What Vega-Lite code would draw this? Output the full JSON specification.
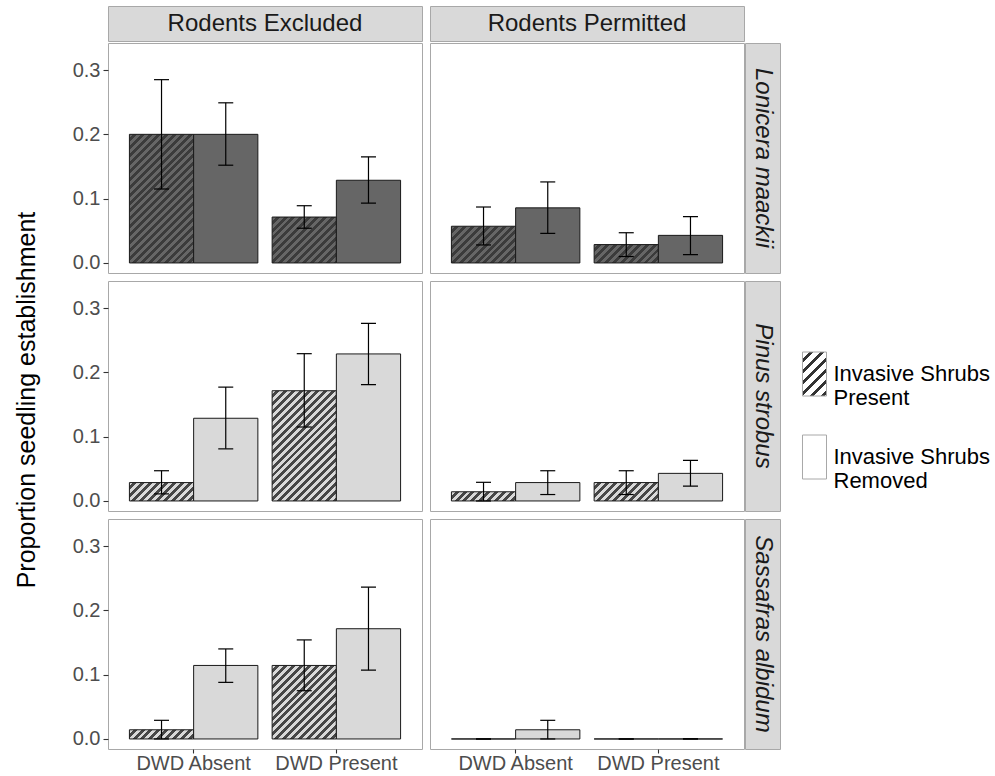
{
  "$schema": "https://vega.github.io/schema/vega-lite/v6.json",
  "autosize": {"type": "pad"},
  "padding": {"left": 2, "top": 5, "right": 0, "bottom": 0},
  "background": "white",
  "config": {
    "view": {"stroke": null},
    "font": "Liberation Sans",
    "axis": {"labelFont": "Liberation Sans", "labelFontSize": 20, "labelColor": "#4d4d4d", "tickColor": "#333333", "tickWidth": 1.1, "domain": false, "grid": false},
    "axisX": {"tickSize": 4, "labelPadding": 0},
    "axisY": {"tickSize": 5, "labelPadding": 3},
    "text": {"font": "Liberation Sans"}
  },
  "params": [
    {"name": "stopsDark", "value": [
      {"offset":0,"color":"#666666"},{"offset":0.02,"color":"#666666"},{"offset":0.02,"color":"#3b3b3b"},{"offset":0.04,"color":"#3b3b3b"},
      {"offset":0.04,"color":"#666666"},{"offset":0.06,"color":"#666666"},{"offset":0.06,"color":"#3b3b3b"},{"offset":0.08,"color":"#3b3b3b"},
      {"offset":0.08,"color":"#666666"},{"offset":0.10,"color":"#666666"},{"offset":0.10,"color":"#3b3b3b"},{"offset":0.12,"color":"#3b3b3b"},
      {"offset":0.12,"color":"#666666"},{"offset":0.14,"color":"#666666"},{"offset":0.14,"color":"#3b3b3b"},{"offset":0.16,"color":"#3b3b3b"},
      {"offset":0.16,"color":"#666666"},{"offset":0.18,"color":"#666666"},{"offset":0.18,"color":"#3b3b3b"},{"offset":0.20,"color":"#3b3b3b"},
      {"offset":0.20,"color":"#666666"},{"offset":0.22,"color":"#666666"},{"offset":0.22,"color":"#3b3b3b"},{"offset":0.24,"color":"#3b3b3b"},
      {"offset":0.24,"color":"#666666"},{"offset":0.26,"color":"#666666"},{"offset":0.26,"color":"#3b3b3b"},{"offset":0.28,"color":"#3b3b3b"},
      {"offset":0.28,"color":"#666666"},{"offset":0.30,"color":"#666666"},{"offset":0.30,"color":"#3b3b3b"},{"offset":0.32,"color":"#3b3b3b"},
      {"offset":0.32,"color":"#666666"},{"offset":0.34,"color":"#666666"},{"offset":0.34,"color":"#3b3b3b"},{"offset":0.36,"color":"#3b3b3b"},
      {"offset":0.36,"color":"#666666"},{"offset":0.38,"color":"#666666"},{"offset":0.38,"color":"#3b3b3b"},{"offset":0.40,"color":"#3b3b3b"},
      {"offset":0.40,"color":"#666666"},{"offset":0.42,"color":"#666666"},{"offset":0.42,"color":"#3b3b3b"},{"offset":0.44,"color":"#3b3b3b"},
      {"offset":0.44,"color":"#666666"},{"offset":0.46,"color":"#666666"},{"offset":0.46,"color":"#3b3b3b"},{"offset":0.48,"color":"#3b3b3b"},
      {"offset":0.48,"color":"#666666"},{"offset":0.50,"color":"#666666"},{"offset":0.50,"color":"#3b3b3b"},{"offset":0.52,"color":"#3b3b3b"},
      {"offset":0.52,"color":"#666666"},{"offset":0.54,"color":"#666666"},{"offset":0.54,"color":"#3b3b3b"},{"offset":0.56,"color":"#3b3b3b"},
      {"offset":0.56,"color":"#666666"},{"offset":0.58,"color":"#666666"},{"offset":0.58,"color":"#3b3b3b"},{"offset":0.60,"color":"#3b3b3b"},
      {"offset":0.60,"color":"#666666"},{"offset":0.62,"color":"#666666"},{"offset":0.62,"color":"#3b3b3b"},{"offset":0.64,"color":"#3b3b3b"},
      {"offset":0.64,"color":"#666666"},{"offset":0.66,"color":"#666666"},{"offset":0.66,"color":"#3b3b3b"},{"offset":0.68,"color":"#3b3b3b"},
      {"offset":0.68,"color":"#666666"},{"offset":0.70,"color":"#666666"},{"offset":0.70,"color":"#3b3b3b"},{"offset":0.72,"color":"#3b3b3b"},
      {"offset":0.72,"color":"#666666"},{"offset":0.74,"color":"#666666"},{"offset":0.74,"color":"#3b3b3b"},{"offset":0.76,"color":"#3b3b3b"},
      {"offset":0.76,"color":"#666666"},{"offset":0.78,"color":"#666666"},{"offset":0.78,"color":"#3b3b3b"},{"offset":0.80,"color":"#3b3b3b"},
      {"offset":0.80,"color":"#666666"},{"offset":0.82,"color":"#666666"},{"offset":0.82,"color":"#3b3b3b"},{"offset":0.84,"color":"#3b3b3b"},
      {"offset":0.84,"color":"#666666"},{"offset":0.86,"color":"#666666"},{"offset":0.86,"color":"#3b3b3b"},{"offset":0.88,"color":"#3b3b3b"},
      {"offset":0.88,"color":"#666666"},{"offset":0.90,"color":"#666666"},{"offset":0.90,"color":"#3b3b3b"},{"offset":0.92,"color":"#3b3b3b"},
      {"offset":0.92,"color":"#666666"},{"offset":0.94,"color":"#666666"},{"offset":0.94,"color":"#3b3b3b"},{"offset":0.96,"color":"#3b3b3b"},
      {"offset":0.96,"color":"#666666"},{"offset":0.98,"color":"#666666"},{"offset":0.98,"color":"#3b3b3b"},{"offset":1,"color":"#3b3b3b"}
    ]},
    {"name": "stopsLight", "value": [
      {"offset":0,"color":"#d9d9d9"},{"offset":0.02,"color":"#d9d9d9"},{"offset":0.02,"color":"#474747"},{"offset":0.04,"color":"#474747"},
      {"offset":0.04,"color":"#d9d9d9"},{"offset":0.06,"color":"#d9d9d9"},{"offset":0.06,"color":"#474747"},{"offset":0.08,"color":"#474747"},
      {"offset":0.08,"color":"#d9d9d9"},{"offset":0.10,"color":"#d9d9d9"},{"offset":0.10,"color":"#474747"},{"offset":0.12,"color":"#474747"},
      {"offset":0.12,"color":"#d9d9d9"},{"offset":0.14,"color":"#d9d9d9"},{"offset":0.14,"color":"#474747"},{"offset":0.16,"color":"#474747"},
      {"offset":0.16,"color":"#d9d9d9"},{"offset":0.18,"color":"#d9d9d9"},{"offset":0.18,"color":"#474747"},{"offset":0.20,"color":"#474747"},
      {"offset":0.20,"color":"#d9d9d9"},{"offset":0.22,"color":"#d9d9d9"},{"offset":0.22,"color":"#474747"},{"offset":0.24,"color":"#474747"},
      {"offset":0.24,"color":"#d9d9d9"},{"offset":0.26,"color":"#d9d9d9"},{"offset":0.26,"color":"#474747"},{"offset":0.28,"color":"#474747"},
      {"offset":0.28,"color":"#d9d9d9"},{"offset":0.30,"color":"#d9d9d9"},{"offset":0.30,"color":"#474747"},{"offset":0.32,"color":"#474747"},
      {"offset":0.32,"color":"#d9d9d9"},{"offset":0.34,"color":"#d9d9d9"},{"offset":0.34,"color":"#474747"},{"offset":0.36,"color":"#474747"},
      {"offset":0.36,"color":"#d9d9d9"},{"offset":0.38,"color":"#d9d9d9"},{"offset":0.38,"color":"#474747"},{"offset":0.40,"color":"#474747"},
      {"offset":0.40,"color":"#d9d9d9"},{"offset":0.42,"color":"#d9d9d9"},{"offset":0.42,"color":"#474747"},{"offset":0.44,"color":"#474747"},
      {"offset":0.44,"color":"#d9d9d9"},{"offset":0.46,"color":"#d9d9d9"},{"offset":0.46,"color":"#474747"},{"offset":0.48,"color":"#474747"},
      {"offset":0.48,"color":"#d9d9d9"},{"offset":0.50,"color":"#d9d9d9"},{"offset":0.50,"color":"#474747"},{"offset":0.52,"color":"#474747"},
      {"offset":0.52,"color":"#d9d9d9"},{"offset":0.54,"color":"#d9d9d9"},{"offset":0.54,"color":"#474747"},{"offset":0.56,"color":"#474747"},
      {"offset":0.56,"color":"#d9d9d9"},{"offset":0.58,"color":"#d9d9d9"},{"offset":0.58,"color":"#474747"},{"offset":0.60,"color":"#474747"},
      {"offset":0.60,"color":"#d9d9d9"},{"offset":0.62,"color":"#d9d9d9"},{"offset":0.62,"color":"#474747"},{"offset":0.64,"color":"#474747"},
      {"offset":0.64,"color":"#d9d9d9"},{"offset":0.66,"color":"#d9d9d9"},{"offset":0.66,"color":"#474747"},{"offset":0.68,"color":"#474747"},
      {"offset":0.68,"color":"#d9d9d9"},{"offset":0.70,"color":"#d9d9d9"},{"offset":0.70,"color":"#474747"},{"offset":0.72,"color":"#474747"},
      {"offset":0.72,"color":"#d9d9d9"},{"offset":0.74,"color":"#d9d9d9"},{"offset":0.74,"color":"#474747"},{"offset":0.76,"color":"#474747"},
      {"offset":0.76,"color":"#d9d9d9"},{"offset":0.78,"color":"#d9d9d9"},{"offset":0.78,"color":"#474747"},{"offset":0.80,"color":"#474747"},
      {"offset":0.80,"color":"#d9d9d9"},{"offset":0.82,"color":"#d9d9d9"},{"offset":0.82,"color":"#474747"},{"offset":0.84,"color":"#474747"},
      {"offset":0.84,"color":"#d9d9d9"},{"offset":0.86,"color":"#d9d9d9"},{"offset":0.86,"color":"#474747"},{"offset":0.88,"color":"#474747"},
      {"offset":0.88,"color":"#d9d9d9"},{"offset":0.90,"color":"#d9d9d9"},{"offset":0.90,"color":"#474747"},{"offset":0.92,"color":"#474747"},
      {"offset":0.92,"color":"#d9d9d9"},{"offset":0.94,"color":"#d9d9d9"},{"offset":0.94,"color":"#474747"},{"offset":0.96,"color":"#474747"},
      {"offset":0.96,"color":"#d9d9d9"},{"offset":0.98,"color":"#d9d9d9"},{"offset":0.98,"color":"#474747"},{"offset":1,"color":"#474747"}
    ]},
    {"name": "stopsLegend", "value": [
      {"offset":0,"color":"#ffffff"},{"offset":0.025,"color":"#ffffff"},{"offset":0.025,"color":"#333333"},{"offset":0.04,"color":"#333333"},
      {"offset":0.04,"color":"#ffffff"},{"offset":0.065,"color":"#ffffff"},{"offset":0.065,"color":"#333333"},{"offset":0.08,"color":"#333333"},
      {"offset":0.08,"color":"#ffffff"},{"offset":0.105,"color":"#ffffff"},{"offset":0.105,"color":"#333333"},{"offset":0.12,"color":"#333333"},
      {"offset":0.12,"color":"#ffffff"},{"offset":0.145,"color":"#ffffff"},{"offset":0.145,"color":"#333333"},{"offset":0.16,"color":"#333333"},
      {"offset":0.16,"color":"#ffffff"},{"offset":0.185,"color":"#ffffff"},{"offset":0.185,"color":"#333333"},{"offset":0.20,"color":"#333333"},
      {"offset":0.20,"color":"#ffffff"},{"offset":0.225,"color":"#ffffff"},{"offset":0.225,"color":"#333333"},{"offset":0.24,"color":"#333333"},
      {"offset":0.24,"color":"#ffffff"},{"offset":0.265,"color":"#ffffff"},{"offset":0.265,"color":"#333333"},{"offset":0.28,"color":"#333333"},
      {"offset":0.28,"color":"#ffffff"},{"offset":0.305,"color":"#ffffff"},{"offset":0.305,"color":"#333333"},{"offset":0.32,"color":"#333333"},
      {"offset":0.32,"color":"#ffffff"},{"offset":1,"color":"#ffffff"}
    ]}
  ],
  "datasets": {
    "bars": [
      {"species":"Lonicera maackii","rodent":"Rodents Excluded","dwd":"DWD Absent","trt":"Present","mean":0.2,"lo":0.115,"hi":0.285},
      {"species":"Lonicera maackii","rodent":"Rodents Excluded","dwd":"DWD Absent","trt":"Removed","mean":0.2,"lo":0.152,"hi":0.249},
      {"species":"Lonicera maackii","rodent":"Rodents Excluded","dwd":"DWD Present","trt":"Present","mean":0.0714,"lo":0.054,"hi":0.089},
      {"species":"Lonicera maackii","rodent":"Rodents Excluded","dwd":"DWD Present","trt":"Removed","mean":0.1286,"lo":0.093,"hi":0.165},
      {"species":"Lonicera maackii","rodent":"Rodents Permitted","dwd":"DWD Absent","trt":"Present","mean":0.0571,"lo":0.028,"hi":0.087},
      {"species":"Lonicera maackii","rodent":"Rodents Permitted","dwd":"DWD Absent","trt":"Removed","mean":0.0857,"lo":0.046,"hi":0.126},
      {"species":"Lonicera maackii","rodent":"Rodents Permitted","dwd":"DWD Present","trt":"Present","mean":0.0286,"lo":0.010,"hi":0.047},
      {"species":"Lonicera maackii","rodent":"Rodents Permitted","dwd":"DWD Present","trt":"Removed","mean":0.0429,"lo":0.013,"hi":0.072},
      {"species":"Pinus strobus","rodent":"Rodents Excluded","dwd":"DWD Absent","trt":"Present","mean":0.0286,"lo":0.011,"hi":0.047},
      {"species":"Pinus strobus","rodent":"Rodents Excluded","dwd":"DWD Absent","trt":"Removed","mean":0.1286,"lo":0.081,"hi":0.177},
      {"species":"Pinus strobus","rodent":"Rodents Excluded","dwd":"DWD Present","trt":"Present","mean":0.1714,"lo":0.115,"hi":0.229},
      {"species":"Pinus strobus","rodent":"Rodents Excluded","dwd":"DWD Present","trt":"Removed","mean":0.2286,"lo":0.181,"hi":0.276},
      {"species":"Pinus strobus","rodent":"Rodents Permitted","dwd":"DWD Absent","trt":"Present","mean":0.0143,"lo":0.0,"hi":0.029},
      {"species":"Pinus strobus","rodent":"Rodents Permitted","dwd":"DWD Absent","trt":"Removed","mean":0.0286,"lo":0.010,"hi":0.047},
      {"species":"Pinus strobus","rodent":"Rodents Permitted","dwd":"DWD Present","trt":"Present","mean":0.0286,"lo":0.010,"hi":0.047},
      {"species":"Pinus strobus","rodent":"Rodents Permitted","dwd":"DWD Present","trt":"Removed","mean":0.0429,"lo":0.023,"hi":0.063},
      {"species":"Sassafras albidum","rodent":"Rodents Excluded","dwd":"DWD Absent","trt":"Present","mean":0.0143,"lo":0.0,"hi":0.029},
      {"species":"Sassafras albidum","rodent":"Rodents Excluded","dwd":"DWD Absent","trt":"Removed","mean":0.1143,"lo":0.088,"hi":0.140},
      {"species":"Sassafras albidum","rodent":"Rodents Excluded","dwd":"DWD Present","trt":"Present","mean":0.1143,"lo":0.075,"hi":0.154},
      {"species":"Sassafras albidum","rodent":"Rodents Excluded","dwd":"DWD Present","trt":"Removed","mean":0.1714,"lo":0.107,"hi":0.236},
      {"species":"Sassafras albidum","rodent":"Rodents Permitted","dwd":"DWD Absent","trt":"Present","mean":0,"lo":0,"hi":0},
      {"species":"Sassafras albidum","rodent":"Rodents Permitted","dwd":"DWD Absent","trt":"Removed","mean":0.0143,"lo":0.0,"hi":0.029},
      {"species":"Sassafras albidum","rodent":"Rodents Permitted","dwd":"DWD Present","trt":"Present","mean":0,"lo":0,"hi":0},
      {"species":"Sassafras albidum","rodent":"Rodents Permitted","dwd":"DWD Present","trt":"Removed","mean":0,"lo":0,"hi":0}
    ]
  },
  "spacing": 19,
  "hconcat": [
    {
      "spacing": 0,
      "vconcat": [
        {"width": 50, "height": 41, "data": {"values": []}, "mark": "text"},
        {"width": 50, "height": 706, "data": {"values": [{"t": "Proportion seedling establishment"}]},
         "mark": {"type": "text", "angle": 270, "fontSize": 25, "color": "black", "font": "Liberation Sans", "align": "center", "baseline": "middle"},
         "encoding": {"text": {"field": "t"}}}
      ]
    },
    {
      "spacing": 0,
      "vconcat": [
        {
          "spacing": 6,
          "hconcat": [
            {"width": 314, "height": 35, "view": {"fill": "#d9d9d9", "stroke": "#a8a8a8", "strokeWidth": 1},
             "data": {"values": [{"s": "Rodents Excluded"}]},
             "mark": {"type": "text", "fontSize": 24, "color": "#1a1a1a", "font": "Liberation Sans", "align": "center", "baseline": "middle"},
             "encoding": {"text": {"field": "s"}}},
            {"width": 314, "height": 35, "view": {"fill": "#d9d9d9", "stroke": "#a8a8a8", "strokeWidth": 1},
             "data": {"values": [{"s": "Rodents Permitted"}]},
             "mark": {"type": "text", "fontSize": 24, "color": "#1a1a1a", "font": "Liberation Sans", "align": "center", "baseline": "middle"},
             "encoding": {"text": {"field": "s"}}}
          ]
        },
        {
          "spacing": 6,
          "vconcat": [
            {
              "spacing": -2,
              "hconcat": [
                {
                  "spacing": 6,
                  "hconcat": [
                    {
                      "width": 314, "height": 230,
                      "view": {"fill": "white", "stroke": "#a8a8a8", "strokeWidth": 1},
                      "data": {"name": "bars"},
                      "transform": [{"filter": "datum.species === 'Lonicera maackii' && datum.rodent === 'Rodents Excluded'"}],
                      "encoding": {
                        "x": {"field": "dwd", "type": "nominal", "title": null, "scale": {"domain": ["DWD Absent", "DWD Present"], "paddingInner": 0.1, "paddingOuter": 0.15}, "axis": null},
                        "xOffset": {"field": "trt", "type": "nominal", "scale": {"domain": ["Present", "Removed"], "paddingInner": 0, "paddingOuter": 0}}
                      },
                      "layer": [
                        {"mark": {"type": "bar", "stroke": "#1a1a1a", "strokeWidth": 1, "opacity": 1, "fill": {"expr": "datum.trt === 'Present' ? {gradient: 'linear', x1: 0, y1: 0, x2: 198 * 64.23 / (4125.5 + pow(max(datum.mean * 643.2, 1), 2)), y2: 198 * max(datum.mean * 643.2, 1) / (4125.5 + pow(max(datum.mean * 643.2, 1), 2)), stops: (datum.species === 'Lonicera maackii' ? stopsDark : stopsLight)} : (datum.species === 'Lonicera maackii' ? '#666666' : '#d9d9d9')"}},
                         "encoding": {"y": {"field": "mean", "type": "quantitative", "title": null, "scale": {"domain": [-0.0156, 0.342], "nice": false, "zero": false}, "axis": {"values": [0, 0.1, 0.2, 0.3], "format": ".1f"}}, "y2": {"datum": 0}}},
                        {"mark": {"type": "rule", "color": "black", "strokeWidth": 1.2, "opacity": 1},
                         "encoding": {"y": {"field": "lo", "type": "quantitative", "title": null, "scale": {"domain": [-0.0156, 0.342], "nice": false, "zero": false}, "axis": {"values": [0, 0.1, 0.2, 0.3], "format": ".1f"}}, "y2": {"field": "hi"}}},
                        {"mark": {"type": "tick", "color": "black", "thickness": 1.2, "size": 15, "opacity": 1},
                         "encoding": {"y": {"field": "lo", "type": "quantitative", "title": null, "scale": {"domain": [-0.0156, 0.342], "nice": false, "zero": false}, "axis": {"values": [0, 0.1, 0.2, 0.3], "format": ".1f"}}}},
                        {"mark": {"type": "tick", "color": "black", "thickness": 1.2, "size": 15, "opacity": 1},
                         "encoding": {"y": {"field": "hi", "type": "quantitative", "title": null, "scale": {"domain": [-0.0156, 0.342], "nice": false, "zero": false}, "axis": {"values": [0, 0.1, 0.2, 0.3], "format": ".1f"}}}}
                      ]
                    },
                    {
                      "width": 314, "height": 230,
                      "view": {"fill": "white", "stroke": "#a8a8a8", "strokeWidth": 1},
                      "data": {"name": "bars"},
                      "transform": [{"filter": "datum.species === 'Lonicera maackii' && datum.rodent === 'Rodents Permitted'"}],
                      "encoding": {
                        "x": {"field": "dwd", "type": "nominal", "title": null, "scale": {"domain": ["DWD Absent", "DWD Present"], "paddingInner": 0.1, "paddingOuter": 0.15}, "axis": null},
                        "xOffset": {"field": "trt", "type": "nominal", "scale": {"domain": ["Present", "Removed"], "paddingInner": 0, "paddingOuter": 0}}
                      },
                      "layer": [
                        {"mark": {"type": "bar", "stroke": "#1a1a1a", "strokeWidth": 1, "opacity": 1, "fill": {"expr": "datum.trt === 'Present' ? {gradient: 'linear', x1: 0, y1: 0, x2: 198 * 64.23 / (4125.5 + pow(max(datum.mean * 643.2, 1), 2)), y2: 198 * max(datum.mean * 643.2, 1) / (4125.5 + pow(max(datum.mean * 643.2, 1), 2)), stops: (datum.species === 'Lonicera maackii' ? stopsDark : stopsLight)} : (datum.species === 'Lonicera maackii' ? '#666666' : '#d9d9d9')"}},
                         "encoding": {"y": {"field": "mean", "type": "quantitative", "title": null, "scale": {"domain": [-0.0156, 0.342], "nice": false, "zero": false}, "axis": null}, "y2": {"datum": 0}}},
                        {"mark": {"type": "rule", "color": "black", "strokeWidth": 1.2, "opacity": 1},
                         "encoding": {"y": {"field": "lo", "type": "quantitative", "title": null, "scale": {"domain": [-0.0156, 0.342], "nice": false, "zero": false}, "axis": null}, "y2": {"field": "hi"}}},
                        {"mark": {"type": "tick", "color": "black", "thickness": 1.2, "size": 15, "opacity": 1},
                         "encoding": {"y": {"field": "lo", "type": "quantitative", "title": null, "scale": {"domain": [-0.0156, 0.342], "nice": false, "zero": false}, "axis": null}}},
                        {"mark": {"type": "tick", "color": "black", "thickness": 1.2, "size": 15, "opacity": 1},
                         "encoding": {"y": {"field": "hi", "type": "quantitative", "title": null, "scale": {"domain": [-0.0156, 0.342], "nice": false, "zero": false}, "axis": null}}}
                      ]
                    }
                  ]
                },
                {"width": 35, "height": 230, "view": {"fill": "#d9d9d9", "stroke": "#a8a8a8", "strokeWidth": 1},
                 "data": {"values": [{"s": "Lonicera maackii"}]},
                 "mark": {"type": "text", "angle": 90, "fontSize": 24, "fontStyle": "italic", "color": "#1a1a1a", "font": "Liberation Sans", "align": "center", "baseline": "middle"},
                 "encoding": {"text": {"field": "s"}}}
              ]
            },
            {
              "spacing": -2,
              "hconcat": [
                {
                  "spacing": 6,
                  "hconcat": [
                    {
                      "width": 314, "height": 230,
                      "view": {"fill": "white", "stroke": "#a8a8a8", "strokeWidth": 1},
                      "data": {"name": "bars"},
                      "transform": [{"filter": "datum.species === 'Pinus strobus' && datum.rodent === 'Rodents Excluded'"}],
                      "encoding": {
                        "x": {"field": "dwd", "type": "nominal", "title": null, "scale": {"domain": ["DWD Absent", "DWD Present"], "paddingInner": 0.1, "paddingOuter": 0.15}, "axis": null},
                        "xOffset": {"field": "trt", "type": "nominal", "scale": {"domain": ["Present", "Removed"], "paddingInner": 0, "paddingOuter": 0}}
                      },
                      "layer": [
                        {"mark": {"type": "bar", "stroke": "#1a1a1a", "strokeWidth": 1, "opacity": 1, "fill": {"expr": "datum.trt === 'Present' ? {gradient: 'linear', x1: 0, y1: 0, x2: 198 * 64.23 / (4125.5 + pow(max(datum.mean * 643.2, 1), 2)), y2: 198 * max(datum.mean * 643.2, 1) / (4125.5 + pow(max(datum.mean * 643.2, 1), 2)), stops: (datum.species === 'Lonicera maackii' ? stopsDark : stopsLight)} : (datum.species === 'Lonicera maackii' ? '#666666' : '#d9d9d9')"}},
                         "encoding": {"y": {"field": "mean", "type": "quantitative", "title": null, "scale": {"domain": [-0.0156, 0.342], "nice": false, "zero": false}, "axis": {"values": [0, 0.1, 0.2, 0.3], "format": ".1f"}}, "y2": {"datum": 0}}},
                        {"mark": {"type": "rule", "color": "black", "strokeWidth": 1.2, "opacity": 1},
                         "encoding": {"y": {"field": "lo", "type": "quantitative", "title": null, "scale": {"domain": [-0.0156, 0.342], "nice": false, "zero": false}, "axis": {"values": [0, 0.1, 0.2, 0.3], "format": ".1f"}}, "y2": {"field": "hi"}}},
                        {"mark": {"type": "tick", "color": "black", "thickness": 1.2, "size": 15, "opacity": 1},
                         "encoding": {"y": {"field": "lo", "type": "quantitative", "title": null, "scale": {"domain": [-0.0156, 0.342], "nice": false, "zero": false}, "axis": {"values": [0, 0.1, 0.2, 0.3], "format": ".1f"}}}},
                        {"mark": {"type": "tick", "color": "black", "thickness": 1.2, "size": 15, "opacity": 1},
                         "encoding": {"y": {"field": "hi", "type": "quantitative", "title": null, "scale": {"domain": [-0.0156, 0.342], "nice": false, "zero": false}, "axis": {"values": [0, 0.1, 0.2, 0.3], "format": ".1f"}}}}
                      ]
                    },
                    {
                      "width": 314, "height": 230,
                      "view": {"fill": "white", "stroke": "#a8a8a8", "strokeWidth": 1},
                      "data": {"name": "bars"},
                      "transform": [{"filter": "datum.species === 'Pinus strobus' && datum.rodent === 'Rodents Permitted'"}],
                      "encoding": {
                        "x": {"field": "dwd", "type": "nominal", "title": null, "scale": {"domain": ["DWD Absent", "DWD Present"], "paddingInner": 0.1, "paddingOuter": 0.15}, "axis": null},
                        "xOffset": {"field": "trt", "type": "nominal", "scale": {"domain": ["Present", "Removed"], "paddingInner": 0, "paddingOuter": 0}}
                      },
                      "layer": [
                        {"mark": {"type": "bar", "stroke": "#1a1a1a", "strokeWidth": 1, "opacity": 1, "fill": {"expr": "datum.trt === 'Present' ? {gradient: 'linear', x1: 0, y1: 0, x2: 198 * 64.23 / (4125.5 + pow(max(datum.mean * 643.2, 1), 2)), y2: 198 * max(datum.mean * 643.2, 1) / (4125.5 + pow(max(datum.mean * 643.2, 1), 2)), stops: (datum.species === 'Lonicera maackii' ? stopsDark : stopsLight)} : (datum.species === 'Lonicera maackii' ? '#666666' : '#d9d9d9')"}},
                         "encoding": {"y": {"field": "mean", "type": "quantitative", "title": null, "scale": {"domain": [-0.0156, 0.342], "nice": false, "zero": false}, "axis": null}, "y2": {"datum": 0}}},
                        {"mark": {"type": "rule", "color": "black", "strokeWidth": 1.2, "opacity": 1},
                         "encoding": {"y": {"field": "lo", "type": "quantitative", "title": null, "scale": {"domain": [-0.0156, 0.342], "nice": false, "zero": false}, "axis": null}, "y2": {"field": "hi"}}},
                        {"mark": {"type": "tick", "color": "black", "thickness": 1.2, "size": 15, "opacity": 1},
                         "encoding": {"y": {"field": "lo", "type": "quantitative", "title": null, "scale": {"domain": [-0.0156, 0.342], "nice": false, "zero": false}, "axis": null}}},
                        {"mark": {"type": "tick", "color": "black", "thickness": 1.2, "size": 15, "opacity": 1},
                         "encoding": {"y": {"field": "hi", "type": "quantitative", "title": null, "scale": {"domain": [-0.0156, 0.342], "nice": false, "zero": false}, "axis": null}}}
                      ]
                    }
                  ]
                },
                {"width": 35, "height": 230, "view": {"fill": "#d9d9d9", "stroke": "#a8a8a8", "strokeWidth": 1},
                 "data": {"values": [{"s": "Pinus strobus"}]},
                 "mark": {"type": "text", "angle": 90, "fontSize": 24, "fontStyle": "italic", "color": "#1a1a1a", "font": "Liberation Sans", "align": "center", "baseline": "middle"},
                 "encoding": {"text": {"field": "s"}}}
              ]
            },
            {
              "spacing": -2,
              "hconcat": [
                {
                  "spacing": 6,
                  "hconcat": [
                    {
                      "width": 314, "height": 230,
                      "view": {"fill": "white", "stroke": "#a8a8a8", "strokeWidth": 1},
                      "data": {"name": "bars"},
                      "transform": [{"filter": "datum.species === 'Sassafras albidum' && datum.rodent === 'Rodents Excluded'"}],
                      "encoding": {
                        "x": {"field": "dwd", "type": "nominal", "title": null, "scale": {"domain": ["DWD Absent", "DWD Present"], "paddingInner": 0.1, "paddingOuter": 0.15}, "axis": {"labelAngle": 0}},
                        "xOffset": {"field": "trt", "type": "nominal", "scale": {"domain": ["Present", "Removed"], "paddingInner": 0, "paddingOuter": 0}}
                      },
                      "layer": [
                        {"mark": {"type": "bar", "stroke": "#1a1a1a", "strokeWidth": 1, "opacity": 1, "fill": {"expr": "datum.trt === 'Present' ? {gradient: 'linear', x1: 0, y1: 0, x2: 198 * 64.23 / (4125.5 + pow(max(datum.mean * 643.2, 1), 2)), y2: 198 * max(datum.mean * 643.2, 1) / (4125.5 + pow(max(datum.mean * 643.2, 1), 2)), stops: (datum.species === 'Lonicera maackii' ? stopsDark : stopsLight)} : (datum.species === 'Lonicera maackii' ? '#666666' : '#d9d9d9')"}},
                         "encoding": {"y": {"field": "mean", "type": "quantitative", "title": null, "scale": {"domain": [-0.0156, 0.342], "nice": false, "zero": false}, "axis": {"values": [0, 0.1, 0.2, 0.3], "format": ".1f"}}, "y2": {"datum": 0}}},
                        {"mark": {"type": "rule", "color": "black", "strokeWidth": 1.2, "opacity": 1},
                         "encoding": {"y": {"field": "lo", "type": "quantitative", "title": null, "scale": {"domain": [-0.0156, 0.342], "nice": false, "zero": false}, "axis": {"values": [0, 0.1, 0.2, 0.3], "format": ".1f"}}, "y2": {"field": "hi"}}},
                        {"mark": {"type": "tick", "color": "black", "thickness": 1.2, "size": 15, "opacity": 1},
                         "encoding": {"y": {"field": "lo", "type": "quantitative", "title": null, "scale": {"domain": [-0.0156, 0.342], "nice": false, "zero": false}, "axis": {"values": [0, 0.1, 0.2, 0.3], "format": ".1f"}}}},
                        {"mark": {"type": "tick", "color": "black", "thickness": 1.2, "size": 15, "opacity": 1},
                         "encoding": {"y": {"field": "hi", "type": "quantitative", "title": null, "scale": {"domain": [-0.0156, 0.342], "nice": false, "zero": false}, "axis": {"values": [0, 0.1, 0.2, 0.3], "format": ".1f"}}}}
                      ]
                    },
                    {
                      "width": 314, "height": 230,
                      "view": {"fill": "white", "stroke": "#a8a8a8", "strokeWidth": 1},
                      "data": {"name": "bars"},
                      "transform": [{"filter": "datum.species === 'Sassafras albidum' && datum.rodent === 'Rodents Permitted'"}],
                      "encoding": {
                        "x": {"field": "dwd", "type": "nominal", "title": null, "scale": {"domain": ["DWD Absent", "DWD Present"], "paddingInner": 0.1, "paddingOuter": 0.15}, "axis": {"labelAngle": 0}},
                        "xOffset": {"field": "trt", "type": "nominal", "scale": {"domain": ["Present", "Removed"], "paddingInner": 0, "paddingOuter": 0}}
                      },
                      "layer": [
                        {"mark": {"type": "bar", "stroke": "#1a1a1a", "strokeWidth": 1, "opacity": 1, "fill": {"expr": "datum.trt === 'Present' ? {gradient: 'linear', x1: 0, y1: 0, x2: 198 * 64.23 / (4125.5 + pow(max(datum.mean * 643.2, 1), 2)), y2: 198 * max(datum.mean * 643.2, 1) / (4125.5 + pow(max(datum.mean * 643.2, 1), 2)), stops: (datum.species === 'Lonicera maackii' ? stopsDark : stopsLight)} : (datum.species === 'Lonicera maackii' ? '#666666' : '#d9d9d9')"}},
                         "encoding": {"y": {"field": "mean", "type": "quantitative", "title": null, "scale": {"domain": [-0.0156, 0.342], "nice": false, "zero": false}, "axis": null}, "y2": {"datum": 0}}},
                        {"mark": {"type": "rule", "color": "black", "strokeWidth": 1.2, "opacity": 1},
                         "encoding": {"y": {"field": "lo", "type": "quantitative", "title": null, "scale": {"domain": [-0.0156, 0.342], "nice": false, "zero": false}, "axis": null}, "y2": {"field": "hi"}}},
                        {"mark": {"type": "tick", "color": "black", "thickness": 1.2, "size": 15, "opacity": 1},
                         "encoding": {"y": {"field": "lo", "type": "quantitative", "title": null, "scale": {"domain": [-0.0156, 0.342], "nice": false, "zero": false}, "axis": null}}},
                        {"mark": {"type": "tick", "color": "black", "thickness": 1.2, "size": 15, "opacity": 1},
                         "encoding": {"y": {"field": "hi", "type": "quantitative", "title": null, "scale": {"domain": [-0.0156, 0.342], "nice": false, "zero": false}, "axis": null}}}
                      ]
                    }
                  ]
                },
                {"width": 35, "height": 230, "view": {"fill": "#d9d9d9", "stroke": "#a8a8a8", "strokeWidth": 1},
                 "data": {"values": [{"s": "Sassafras albidum"}]},
                 "mark": {"type": "text", "angle": 90, "fontSize": 24, "fontStyle": "italic", "color": "#1a1a1a", "font": "Liberation Sans", "align": "center", "baseline": "middle"},
                 "encoding": {"text": {"field": "s"}}}
              ]
            }
          ]
        }
      ]
    },
    {
      "width": 29, "height": 741,
      "data": {"values": [
        {"trt": "Present", "label": ["Invasive Shrubs", "Present"]},
        {"trt": "Removed", "label": ["Invasive Shrubs", "Removed"]}
      ]},
      "encoding": {"y": {"field": "trt", "type": "nominal", "title": null, "scale": {"type": "point", "domain": ["Present", "Removed"], "range": [368, 451], "padding": 0}, "axis": null}},
      "layer": [
        {"mark": {"type": "point", "shape": "M-0.5455,-1L0.5455,-1L0.5455,1L-0.5455,1Z", "size": 1936, "filled": true, "opacity": 1, "stroke": "#a8a8a8", "strokeWidth": 1, "fill": {"expr": "datum.trt === 'Present' ? {gradient: 'linear', x1: 0, y1: 0, x2: 2.635, y2: 4.83, stops: stopsLegend} : '#ffffff'"}}},
        {"mark": {"type": "text", "align": "left", "baseline": "middle", "dx": 19, "fontSize": 22, "lineHeight": 24, "color": "black", "font": "Liberation Sans"},
         "encoding": {"text": {"field": "label"}}}
      ]
    }
  ]
}
